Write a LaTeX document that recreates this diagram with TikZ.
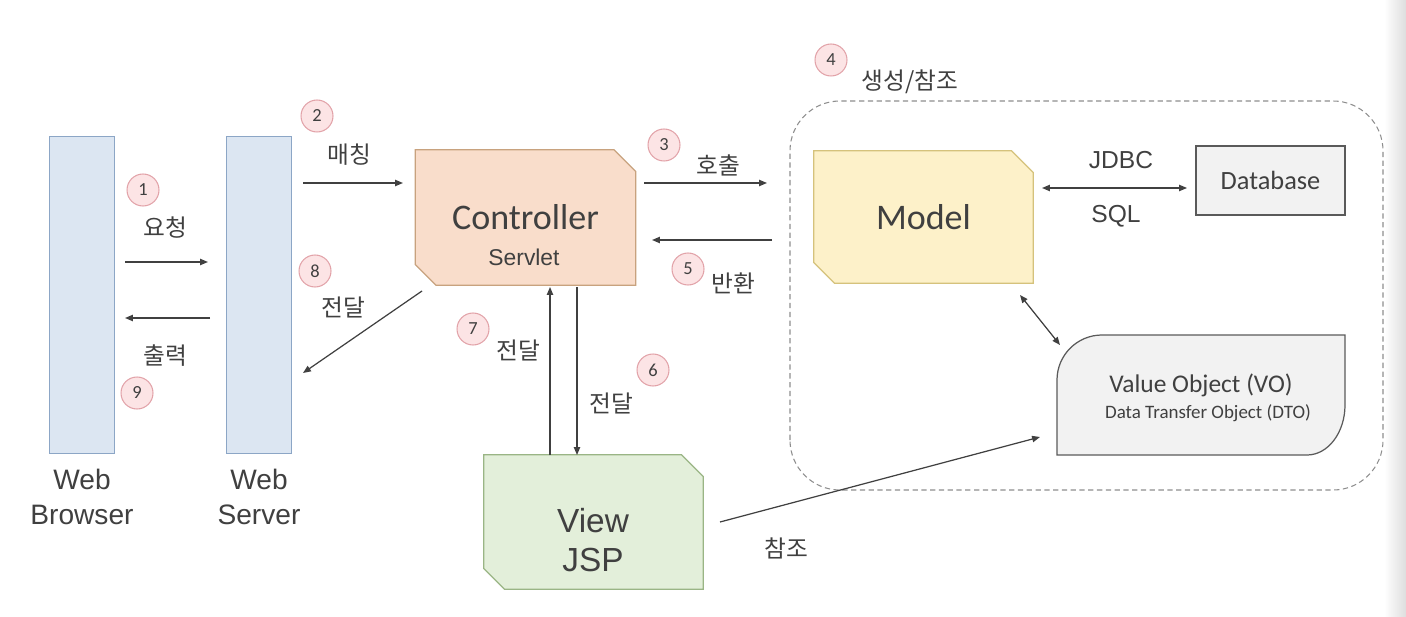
\documentclass[tikz,border=0pt]{standalone}
\usepackage{fontspec}
\setmainfont{Liberation Sans}
\newfontfamily\calib{Carlito}
\newfontfamily\krfont{Noto Sans CJK KR}
\usetikzlibrary{arrows.meta,backgrounds,positioning}
\definecolor{ink}{HTML}{404040}
\definecolor{barfill}{HTML}{DCE6F2}
\definecolor{barline}{HTML}{8CA6C6}
\definecolor{ctrlfill}{HTML}{F9DDCB}
\definecolor{ctrlline}{HTML}{C8A27E}
\definecolor{modelfill}{HTML}{FDF1C9}
\definecolor{modelline}{HTML}{D5C27C}
\definecolor{viewfill}{HTML}{E3EFDA}
\definecolor{viewline}{HTML}{9AB585}
\definecolor{greyfill}{HTML}{F2F2F2}
\definecolor{greyline}{HTML}{5A5A5A}
\definecolor{numfill}{HTML}{FCE4E5}
\definecolor{numline}{HTML}{E2A3A9}
\definecolor{dashline}{HTML}{8E8E8E}
\begin{document}
\begin{tikzpicture}[x=0.02cm,y=0.02cm,
    bar/.style={draw=barline,fill=barfill,line width=0.6pt,minimum width=1.3cm,minimum height=6.36cm,inner sep=0pt},
    box/.style={inner sep=0pt,minimum width=4.4cm,minimum height=2.7cm},
    num/.style={circle,draw=numline,fill=numfill,line width=0.6pt,minimum size=0.64cm,inner sep=0pt,
      text=ink,font=\calib\fontsize{10.5}{12}\selectfont},
    kr/.style={text=ink,inner sep=0pt,font=\krfont\fontsize{13.5}{16}\selectfont},
    big/.style={text=ink,font=\calib\fontsize{20.5}{22}\selectfont},
    plain/.style={text=ink,inner sep=0pt,align=center},
    tip/.tip={Triangle[length=4.5pt,width=3.6pt]},
    arr/.style={draw=ink,line width=0.7pt,-tip},
    darr/.style={draw=ink,line width=0.7pt,tip-tip}]
  \useasboundingbox (0,0) rectangle (1406,616);

  % client side
  \node[bar] (browser) at (82,321) {};
  \node[bar] (server) at (259,321) {};
  \node[plain,font=\fontsize{16}{20}\selectfont] (browserlbl) at (82,119) {Web\\Browser};
  \node[plain,font=\fontsize{16}{20}\selectfont] (serverlbl) at (259,119) {Web\\Server};

  % boxes
  \node[box,big] (ctrl) at (525.5,398.5) {Controller};
  \node[plain,font=\fontsize{13}{15}\selectfont] (servlet) at (524,359) {Servlet};
  \node[box,big,minimum width=4.38cm,minimum height=2.64cm] (model) at (923.5,399) {Model};
  \node[draw=greyline,fill=greyfill,line width=0.7pt,minimum width=2.98cm,minimum height=1.38cm,
    text=ink,font=\calib\fontsize{15}{17}\selectfont] (db) at (1270.5,435.5) {Database};
  \node[plain,font=\calib\fontsize{14.5}{16}\selectfont] (vo) at (1201,231) {Value Object (VO)};
  \node[plain,font=\calib\fontsize{10.8}{12}\selectfont] (dto) at (1208,203) {Data Transfer Object (DTO)};
  \node[box,minimum width=4.38cm,minimum height=2.68cm] (view) at (593.5,94) {};
  \node[plain,font=\fontsize{19}{22}\selectfont] (viewtxt) at (593,76) {View\\JSP};

  \begin{scope}[on background layer]
    \shade[left color=white,right color=black!13] (1384,0) rectangle (1406,616);
    \draw[dashline,dash pattern=on 3pt off 2pt,line width=0.6pt,rounded corners=1cm]
      (790,126) rectangle (1383,515);
    \foreach \n/\f/\l in {ctrl/ctrlfill/ctrlline,model/modelfill/modelline,view/viewfill/viewline}
      \draw[draw=\l,fill=\f,line width=0.7pt] (\n.north west) -- ([xshift=-0.44cm]\n.north east)
        -- ([yshift=-0.44cm]\n.north east) -- (\n.south east) -- ([xshift=0.42cm]\n.south west)
        -- ([yshift=0.42cm]\n.south west) -- cycle;
    \draw[draw=greyline,fill=greyfill,line width=0.7pt]
      (1057,161) -- (1057,236) arc[start angle=180,end angle=90,radius=45] -- (1345,281)
      -- (1345,211) arc[start angle=0,end angle=-90,x radius=38,y radius=50] -- cycle;
  \end{scope}

  % end points
  \coordinate (reqA) at (125,354);  \coordinate (reqB) at (208,354);
  \coordinate (outA) at (210,298);  \coordinate (outB) at (125,298);
  \coordinate (matA) at (303,433);  \coordinate (matB) at (403,433);
  \coordinate (sndA) at (422,325);  \coordinate (sndB) at (303,243);
  \coordinate (callA) at (644,433); \coordinate (callB) at (767,433);
  \coordinate (retA) at (772,376);  \coordinate (retB) at (652,376);
  \coordinate (sqlA) at (1042,428); \coordinate (sqlB) at (1187,428);
  \coordinate (voA) at (1020,321);  \coordinate (voB) at (1060,271);
  \coordinate (upA) at (550,161);   \coordinate (upB) at (550,329);
  \coordinate (dnA) at (577,329);   \coordinate (dnB) at (577,161);
  \coordinate (refA) at (720,94);   \coordinate (refB) at (1040,179);

  % connectors
  \draw[arr] (reqA) -- (reqB);
  \draw[arr] (outA) -- (outB);
  \draw[arr] (matA) -- (matB);
  \draw[arr] (sndA) -- (sndB);
  \draw[arr] (callA) -- (callB);
  \draw[arr] (retA) -- (retB);
  \draw[darr] (sqlA) -- (sqlB);
  \draw[darr] (voA) -- (voB);
  \draw[arr] (upA) -- (upB);
  \draw[arr] (dnA) -- (dnB);
  \draw[arr] (refA) -- (refB);

  % labels
  \node[num] (n1) at (143,426) {1};
  \node[kr] (yocheong) at (165,388) {요청};
  \node[kr] (chulryeok) at (165,260) {출력};
  \node[num] (n9) at (137,223) {9};
  \node[num] (n2) at (317,500) {2};
  \node[kr] (maeching) at (349,461) {매칭};
  \node[num] (n8) at (315,345) {8};
  \node[kr] (jeondal8) at (343,309) {전달};
  \node[num] (n3) at (664,471) {3};
  \node[kr] (hochul) at (718,451) {호출};
  \node[num] (n5) at (688,347) {5};
  \node[kr] (banhwan) at (733,333) {반환};
  \node[num] (n4) at (831,556) {4};
  \node[kr] (saengseong) at (910,534) {생성/참조};
  \node[plain,font=\fontsize{14}{16}\selectfont] (jdbc) at (1121,456) {JDBC};
  \node[plain,font=\fontsize{14}{16}\selectfont] (sql) at (1116,400) {SQL};
  \node[num] (n7) at (473,287) {7};
  \node[kr] (jeondal7) at (518,266) {전달};
  \node[num] (n6) at (653,246) {6};
  \node[kr] (jeondal6) at (611,213) {전달};
  \node[kr] (chamjo) at (786,68) {참조};
\end{tikzpicture}
\end{document}
